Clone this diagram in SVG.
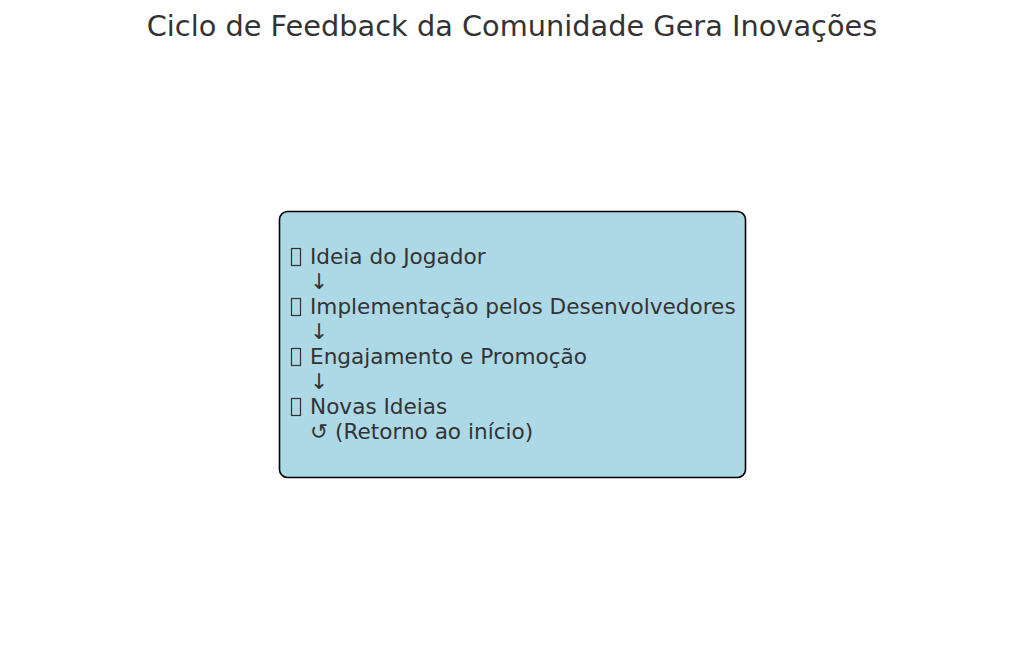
<svg xmlns="http://www.w3.org/2000/svg" width="1024" height="656" viewBox="0 0 1024 656">
<style>
text{font-family:"DejaVu Sans","Noto Sans CJK SC",sans-serif;fill:#333333}
.t{font-size:28.8px}
.l{font-size:21.6px}
.box{fill:#add8e6;stroke:#000000;stroke-width:1.6}
.tofu{fill:none;stroke:#333333;stroke-width:1.2}
</style>
<rect width="1024" height="656" fill="#ffffff"/>
<text class="t" x="512" y="36" text-anchor="middle">Ciclo de Feedback da Comunidade Gera Inovações</text>
<g id="node-ciclo">
<rect class="box" x="279.5" y="211.5" width="466" height="266" rx="8"/>
<rect class="tofu" x="291.5" y="248.5" width="9" height="17"/>
<text class="l" x="310" y="264">Ideia do Jogador</text>
<text class="l" x="310" y="289">↓</text>
<rect class="tofu" x="291.5" y="298.5" width="9" height="17"/>
<text class="l" x="310" y="314">Implementação pelos Desenvolvedores</text>
<text class="l" x="310" y="339">↓</text>
<rect class="tofu" x="291.5" y="348.5" width="9" height="17"/>
<text class="l" x="310" y="364">Engajamento e Promoção</text>
<text class="l" x="310" y="389">↓</text>
<rect class="tofu" x="291.5" y="398.5" width="9" height="17"/>
<text class="l" x="310" y="414">Novas Ideias</text>
<text class="l" x="310" y="439">↺ (Retorno ao início)</text>
</g>
<g id="connectors"></g>
</svg>
